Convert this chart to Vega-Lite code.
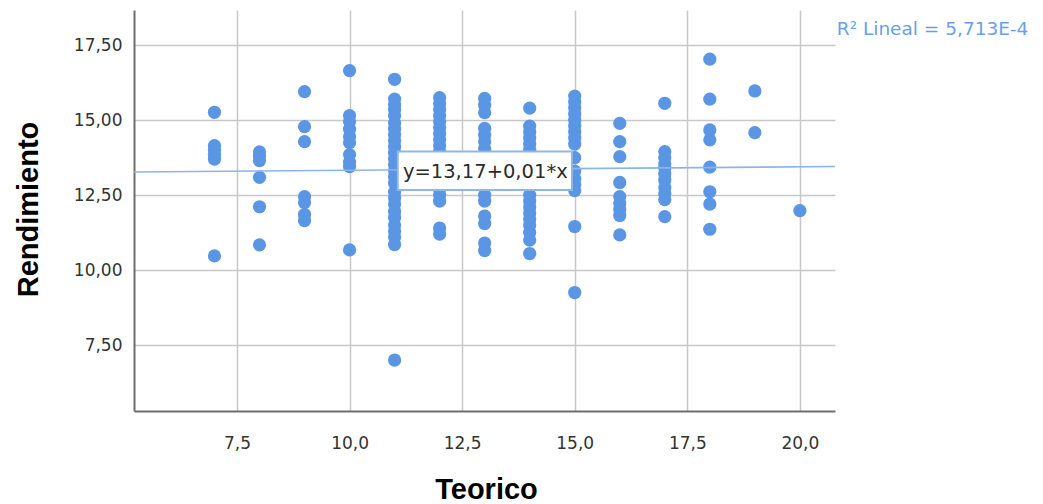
{
  "$schema": "https://vega.github.io/schema/vega-lite/v6.json",
  "width": 701,
  "height": 401,
  "autosize": {"type": "none"},
  "padding": {"left": 134, "top": 10, "right": 208, "bottom": 93},
  "background": "white",
  "config": {"view": {"stroke": null}},
  "datasets": {
    "pts": [
      {"Teorico": 7, "Rendimiento": 15.26}, {"Teorico": 7, "Rendimiento": 14.15}, {"Teorico": 7, "Rendimiento": 14.0}, {"Teorico": 7, "Rendimiento": 13.85}, {"Teorico": 7, "Rendimiento": 13.7}, {"Teorico": 7, "Rendimiento": 10.47},
      {"Teorico": 8, "Rendimiento": 13.94}, {"Teorico": 8, "Rendimiento": 13.8}, {"Teorico": 8, "Rendimiento": 13.65}, {"Teorico": 8, "Rendimiento": 13.09}, {"Teorico": 8, "Rendimiento": 12.11}, {"Teorico": 8, "Rendimiento": 10.84},
      {"Teorico": 9, "Rendimiento": 15.95}, {"Teorico": 9, "Rendimiento": 14.78}, {"Teorico": 9, "Rendimiento": 14.28}, {"Teorico": 9, "Rendimiento": 12.45}, {"Teorico": 9, "Rendimiento": 12.25}, {"Teorico": 9, "Rendimiento": 11.85}, {"Teorico": 9, "Rendimiento": 11.65},
      {"Teorico": 10, "Rendimiento": 16.65}, {"Teorico": 10, "Rendimiento": 15.15}, {"Teorico": 10, "Rendimiento": 14.95}, {"Teorico": 10, "Rendimiento": 14.7}, {"Teorico": 10, "Rendimiento": 14.45}, {"Teorico": 10, "Rendimiento": 14.25}, {"Teorico": 10, "Rendimiento": 13.85}, {"Teorico": 10, "Rendimiento": 13.6}, {"Teorico": 10, "Rendimiento": 13.45}, {"Teorico": 10, "Rendimiento": 10.67},
      {"Teorico": 11, "Rendimiento": 16.36}, {"Teorico": 11, "Rendimiento": 15.7}, {"Teorico": 11, "Rendimiento": 15.5}, {"Teorico": 11, "Rendimiento": 15.35}, {"Teorico": 11, "Rendimiento": 15.15}, {"Teorico": 11, "Rendimiento": 14.9}, {"Teorico": 11, "Rendimiento": 14.7}, {"Teorico": 11, "Rendimiento": 14.5}, {"Teorico": 11, "Rendimiento": 14.3}, {"Teorico": 11, "Rendimiento": 14.1}, {"Teorico": 11, "Rendimiento": 13.9}, {"Teorico": 11, "Rendimiento": 13.7}, {"Teorico": 11, "Rendimiento": 13.5}, {"Teorico": 11, "Rendimiento": 13.3}, {"Teorico": 11, "Rendimiento": 13.1}, {"Teorico": 11, "Rendimiento": 12.9}, {"Teorico": 11, "Rendimiento": 12.6}, {"Teorico": 11, "Rendimiento": 12.4}, {"Teorico": 11, "Rendimiento": 12.2}, {"Teorico": 11, "Rendimiento": 11.95}, {"Teorico": 11, "Rendimiento": 11.75}, {"Teorico": 11, "Rendimiento": 11.5}, {"Teorico": 11, "Rendimiento": 11.3}, {"Teorico": 11, "Rendimiento": 11.1}, {"Teorico": 11, "Rendimiento": 10.85}, {"Teorico": 11, "Rendimiento": 7.0},
      {"Teorico": 12, "Rendimiento": 15.75}, {"Teorico": 12, "Rendimiento": 15.55}, {"Teorico": 12, "Rendimiento": 15.35}, {"Teorico": 12, "Rendimiento": 15.15}, {"Teorico": 12, "Rendimiento": 14.95}, {"Teorico": 12, "Rendimiento": 14.75}, {"Teorico": 12, "Rendimiento": 14.55}, {"Teorico": 12, "Rendimiento": 14.35}, {"Teorico": 12, "Rendimiento": 14.15}, {"Teorico": 12, "Rendimiento": 13.95}, {"Teorico": 12, "Rendimiento": 13.75}, {"Teorico": 12, "Rendimiento": 13.5}, {"Teorico": 12, "Rendimiento": 13.3}, {"Teorico": 12, "Rendimiento": 13.1}, {"Teorico": 12, "Rendimiento": 12.9}, {"Teorico": 12, "Rendimiento": 12.7}, {"Teorico": 12, "Rendimiento": 12.5}, {"Teorico": 12, "Rendimiento": 12.3}, {"Teorico": 12, "Rendimiento": 11.4}, {"Teorico": 12, "Rendimiento": 11.2},
      {"Teorico": 13, "Rendimiento": 15.72}, {"Teorico": 13, "Rendimiento": 15.5}, {"Teorico": 13, "Rendimiento": 15.25}, {"Teorico": 13, "Rendimiento": 14.72}, {"Teorico": 13, "Rendimiento": 14.5}, {"Teorico": 13, "Rendimiento": 14.28}, {"Teorico": 13, "Rendimiento": 14.05}, {"Teorico": 13, "Rendimiento": 13.8}, {"Teorico": 13, "Rendimiento": 13.4}, {"Teorico": 13, "Rendimiento": 13.0}, {"Teorico": 13, "Rendimiento": 12.75}, {"Teorico": 13, "Rendimiento": 12.5}, {"Teorico": 13, "Rendimiento": 12.3}, {"Teorico": 13, "Rendimiento": 11.8}, {"Teorico": 13, "Rendimiento": 11.55}, {"Teorico": 13, "Rendimiento": 10.9}, {"Teorico": 13, "Rendimiento": 10.65},
      {"Teorico": 14, "Rendimiento": 15.4}, {"Teorico": 14, "Rendimiento": 14.8}, {"Teorico": 14, "Rendimiento": 14.6}, {"Teorico": 14, "Rendimiento": 14.4}, {"Teorico": 14, "Rendimiento": 14.2}, {"Teorico": 14, "Rendimiento": 14.0}, {"Teorico": 14, "Rendimiento": 13.8}, {"Teorico": 14, "Rendimiento": 13.5}, {"Teorico": 14, "Rendimiento": 13.2}, {"Teorico": 14, "Rendimiento": 13.0}, {"Teorico": 14, "Rendimiento": 12.75}, {"Teorico": 14, "Rendimiento": 12.5}, {"Teorico": 14, "Rendimiento": 12.3}, {"Teorico": 14, "Rendimiento": 12.1}, {"Teorico": 14, "Rendimiento": 11.9}, {"Teorico": 14, "Rendimiento": 11.7}, {"Teorico": 14, "Rendimiento": 11.5}, {"Teorico": 14, "Rendimiento": 11.25}, {"Teorico": 14, "Rendimiento": 11.0}, {"Teorico": 14, "Rendimiento": 10.55},
      {"Teorico": 15, "Rendimiento": 15.8}, {"Teorico": 15, "Rendimiento": 15.6}, {"Teorico": 15, "Rendimiento": 15.4}, {"Teorico": 15, "Rendimiento": 15.2}, {"Teorico": 15, "Rendimiento": 15.0}, {"Teorico": 15, "Rendimiento": 14.8}, {"Teorico": 15, "Rendimiento": 14.6}, {"Teorico": 15, "Rendimiento": 14.4}, {"Teorico": 15, "Rendimiento": 14.2}, {"Teorico": 15, "Rendimiento": 13.75}, {"Teorico": 15, "Rendimiento": 13.3}, {"Teorico": 15, "Rendimiento": 13.05}, {"Teorico": 15, "Rendimiento": 12.85}, {"Teorico": 15, "Rendimiento": 12.65}, {"Teorico": 15, "Rendimiento": 11.45}, {"Teorico": 15, "Rendimiento": 9.25},
      {"Teorico": 16, "Rendimiento": 14.89}, {"Teorico": 16, "Rendimiento": 14.28}, {"Teorico": 16, "Rendimiento": 13.78}, {"Teorico": 16, "Rendimiento": 12.92}, {"Teorico": 16, "Rendimiento": 12.45}, {"Teorico": 16, "Rendimiento": 12.22}, {"Teorico": 16, "Rendimiento": 12.02}, {"Teorico": 16, "Rendimiento": 11.82}, {"Teorico": 16, "Rendimiento": 11.17},
      {"Teorico": 17, "Rendimiento": 15.56}, {"Teorico": 17, "Rendimiento": 13.95}, {"Teorico": 17, "Rendimiento": 13.75}, {"Teorico": 17, "Rendimiento": 13.55}, {"Teorico": 17, "Rendimiento": 13.4}, {"Teorico": 17, "Rendimiento": 13.2}, {"Teorico": 17, "Rendimiento": 13.0}, {"Teorico": 17, "Rendimiento": 12.75}, {"Teorico": 17, "Rendimiento": 12.55}, {"Teorico": 17, "Rendimiento": 12.35}, {"Teorico": 17, "Rendimiento": 11.78},
      {"Teorico": 18, "Rendimiento": 17.03}, {"Teorico": 18, "Rendimiento": 15.7}, {"Teorico": 18, "Rendimiento": 14.67}, {"Teorico": 18, "Rendimiento": 14.34}, {"Teorico": 18, "Rendimiento": 13.43}, {"Teorico": 18, "Rendimiento": 12.61}, {"Teorico": 18, "Rendimiento": 12.2}, {"Teorico": 18, "Rendimiento": 11.36},
      {"Teorico": 19, "Rendimiento": 15.97}, {"Teorico": 19, "Rendimiento": 14.58},
      {"Teorico": 20, "Rendimiento": 11.98}
    ],
    "fit": [
      {"Teorico": 5.213, "Rendimiento": 13.27},
      {"Teorico": 20.78, "Rendimiento": 13.45}
    ],
    "box": [
      {"x1": 11.07, "x2": 14.94, "y1": 13.95, "y2": 12.67}
    ],
    "eq": [
      {"Teorico": 11.185, "Rendimiento": 13.06, "label": "y=13,17+0,01*x"}
    ],
    "r2": [
      {"Teorico": 20.82, "Rendimiento": 17.84, "label": "R² Lineal = 5,713E-4"}
    ]
  },
  "layer": [
    {
      "data": {"name": "pts"},
      "mark": {"type": "point", "filled": true, "shape": "circle", "size": 175, "opacity": 1, "color": "#5a96e3"},
      "encoding": {
        "x": {
          "field": "Teorico", "type": "quantitative",
          "scale": {"domain": [5.213, 20.78], "nice": false, "zero": false},
          "axis": {
            "values": [7.5, 10, 12.5, 15, 17.5, 20],
            "labelExpr": "replace(format(datum.value, '.1f'), '.', ',')",
            "grid": true, "gridColor": "#c8c8c8", "gridWidth": 1.5,
            "ticks": false, "labelPadding": 24,
            "domainColor": "#6e6e6e", "domainWidth": 2,
            "labelFont": "DejaVu Sans", "labelFontSize": 17, "labelColor": "#333333",
            "title": "Teorico", "titleFont": "Liberation Sans", "titleFontWeight": "bold", "titleFontSize": 29, "titleColor": "#000000",
            "titleX": 352, "titleY": 87, "titleBaseline": "alphabetic", "titleAlign": "center", "titleAnchor": null
          }
        },
        "y": {
          "field": "Rendimiento", "type": "quantitative",
          "scale": {"domain": [5.3, 18.67], "nice": false, "zero": false},
          "axis": {
            "values": [7.5, 10, 12.5, 15, 17.5],
            "labelExpr": "replace(format(datum.value, '.2f'), '.', ',')",
            "grid": true, "gridColor": "#c8c8c8", "gridWidth": 1.5,
            "ticks": false, "labelPadding": 12,
            "domainColor": "#6e6e6e", "domainWidth": 2,
            "labelFont": "DejaVu Sans", "labelFontSize": 17, "labelColor": "#333333",
            "title": "Rendimiento", "titleFont": "Liberation Sans", "titleFontWeight": "bold", "titleFontSize": 29, "titleColor": "#000000",
            "titleX": -97, "titleY": 199, "titleBaseline": "alphabetic", "titleAlign": "center", "titleAngle": 270, "titleAnchor": null
          }
        }
      }
    },
    {
      "data": {"name": "fit"},
      "mark": {"type": "line", "color": "#8cb4ec", "strokeWidth": 1.6},
      "encoding": {
        "x": {"field": "Teorico", "type": "quantitative"},
        "y": {"field": "Rendimiento", "type": "quantitative"}
      }
    },
    {
      "data": {"name": "box"},
      "mark": {"type": "rect", "fill": "white", "stroke": "#8db6ea", "strokeWidth": 2},
      "encoding": {
        "x": {"field": "x1", "type": "quantitative"},
        "x2": {"field": "x2"},
        "y": {"field": "y1", "type": "quantitative"},
        "y2": {"field": "y2"}
      }
    },
    {
      "data": {"name": "eq"},
      "mark": {"type": "text", "align": "left", "baseline": "alphabetic", "font": "DejaVu Sans", "fontSize": 19.5, "color": "#2b2b2b"},
      "encoding": {
        "x": {"field": "Teorico", "type": "quantitative"},
        "y": {"field": "Rendimiento", "type": "quantitative"},
        "text": {"field": "label"}
      }
    },
    {
      "data": {"name": "r2"},
      "mark": {"type": "text", "align": "left", "baseline": "alphabetic", "font": "DejaVu Sans", "fontSize": 18.5, "color": "#6a9fe8", "clip": false},
      "encoding": {
        "x": {"field": "Teorico", "type": "quantitative"},
        "y": {"field": "Rendimiento", "type": "quantitative"},
        "text": {"field": "label"}
      }
    }
  ]
}
